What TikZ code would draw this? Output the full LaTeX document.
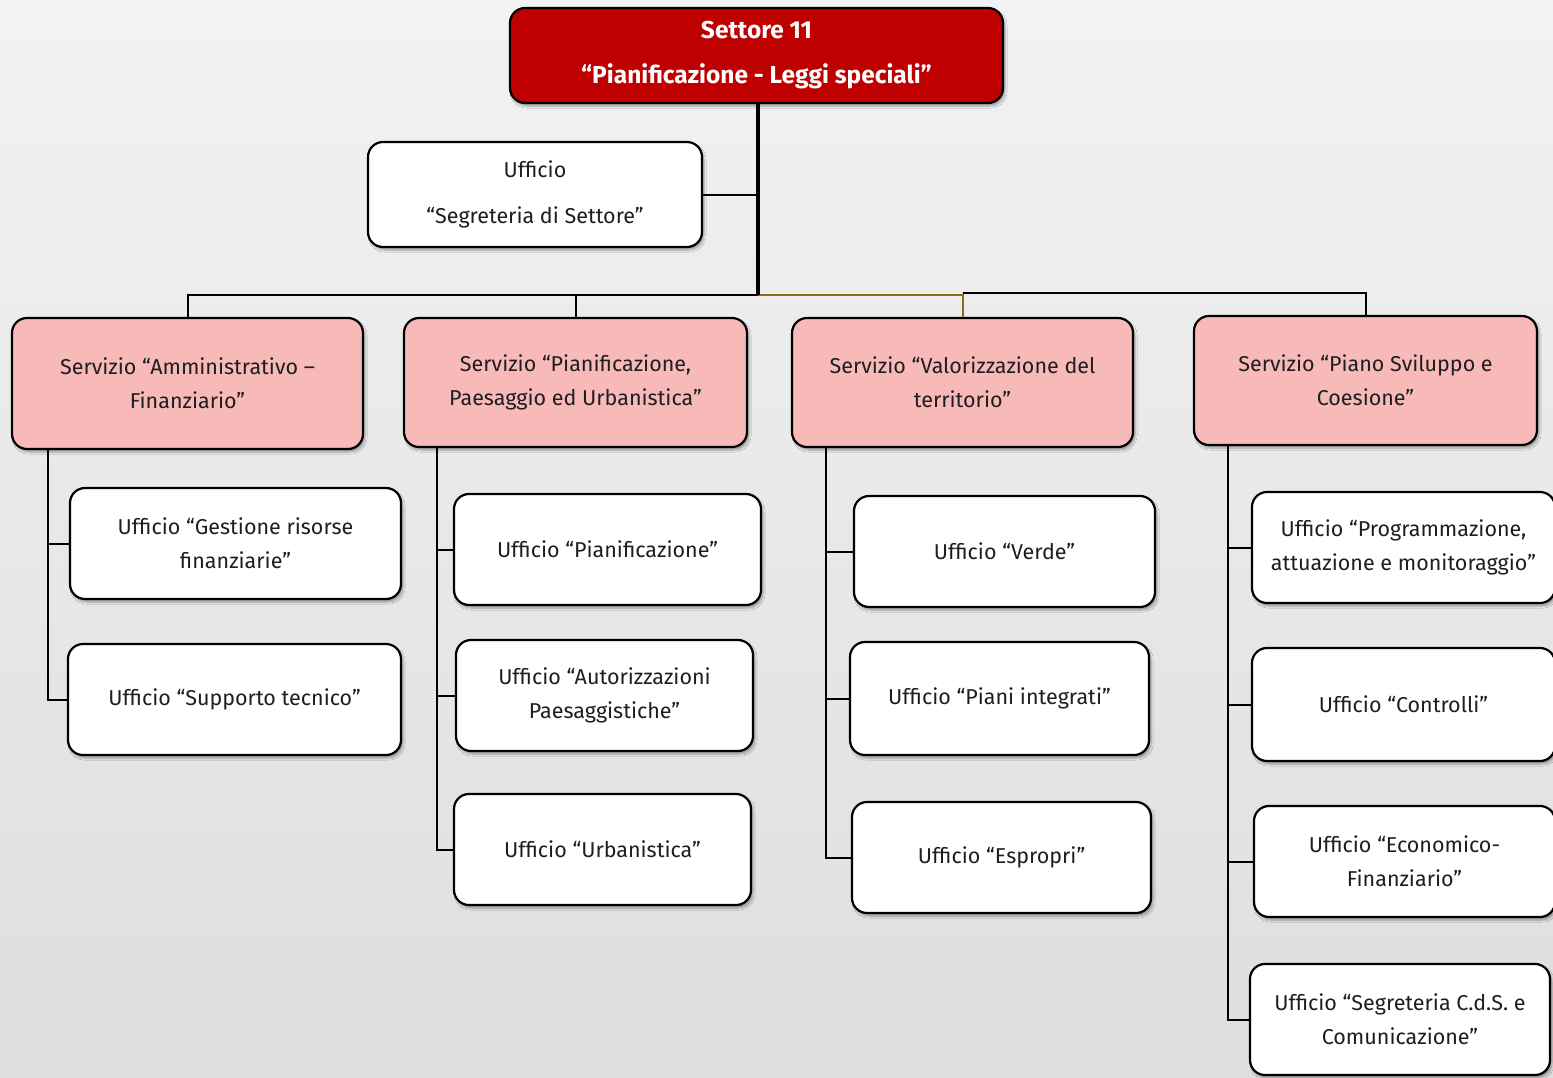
\documentclass[tikz,border=0pt]{standalone}
\usepackage{fontspec}
\setmainfont{Fira Sans}
\usetikzlibrary{shadows.blur}
\definecolor{topred}{HTML}{BE0000}
\definecolor{svcpink}{HTML}{F8B9B9}
\definecolor{brownline}{HTML}{8B6A1B}
\definecolor{txt}{HTML}{1E1E1E}
\begin{document}
\begin{tikzpicture}[x=1pt,y=-1pt,
  box/.style={draw=black,line width=2.2pt,rounded corners=15pt,align=center,
    inner sep=0pt,text=txt,font=\fontsize{21.5}{34}\selectfont,
    blur shadow={shadow xshift=2pt,shadow yshift=-3pt,shadow opacity=35,shadow blur steps=6}},
  topbox/.style={box,fill=topred,text=white,font=\fontsize{24.5}{45}\selectfont\bfseries},
  svc/.style={box,fill=svcpink},
  uff/.style={box,fill=white},
  conn/.style={draw=black,line width=2pt},
  trunk/.style={draw=black,line width=3.2pt}]
\useasboundingbox (0,0) rectangle (1553,1077);
\shade[top color=black!5,bottom color=black!13] (0,0) rectangle (1553,1077);
\clip (0,0) rectangle (1553,1077);

% connectors
\coordinate (bus) at (758,295);
\coordinate (v1) at (48,0);
\coordinate (v2) at (437,0);
\coordinate (v3) at (826,0);
\coordinate (v4) at (1228,0);
\coordinate (busR) at (963,293);

% top
\node[topbox,minimum width=493pt,minimum height=95pt] (top) at (756.5,55.5)
  {Settore 11\\“Pianificazione - Leggi speciali”};
\node[uff,minimum width=334pt,minimum height=105pt,font=\fontsize{21.5}{46}\selectfont] (seg) at (535,194.5)
  {Ufficio\\“Segreteria di Settore”};

% services
\node[svc,minimum width=351pt,minimum height=131pt] (s1) at (187.5,383.5)
  {Servizio “Amministrativo –\\Finanziario”};
\node[svc,minimum width=343pt,minimum height=129pt] (s2) at (575.5,382.5)
  {Servizio “Pianificazione,\\Paesaggio ed Urbanistica”};
\node[svc,minimum width=341pt,minimum height=129pt] (s3) at (962.5,382.5)
  {Servizio “Valorizzazione del\\territorio”};
\node[svc,minimum width=343pt,minimum height=129pt] (s4) at (1365.5,380.5)
  {Servizio “Piano Sviluppo e\\Coesione”};

% group 1
\node[uff,minimum width=331pt,minimum height=111pt] (a1) at (235.5,543.5)
  {Ufficio “Gestione risorse\\finanziarie”};
\node[uff,minimum width=333pt,minimum height=111pt] (a2) at (234.5,699.5)
  {Ufficio “Supporto tecnico”};
% group 2
\node[uff,minimum width=307pt,minimum height=111pt] (b1) at (607.5,549.5)
  {Ufficio “Pianificazione”};
\node[uff,minimum width=297pt,minimum height=111pt] (b2) at (604.5,695.5)
  {Ufficio “Autorizzazioni\\Paesaggistiche”};
\node[uff,minimum width=297pt,minimum height=111pt] (b3) at (602.5,849.5)
  {Ufficio “Urbanistica”};
% group 3
\node[uff,minimum width=301pt,minimum height=111pt] (c1) at (1004.5,551.5)
  {Ufficio “Verde”};
\node[uff,minimum width=299pt,minimum height=113pt] (c2) at (999.5,698.5)
  {Ufficio “Piani integrati”};
\node[uff,minimum width=299pt,minimum height=111pt] (c3) at (1001.5,857.5)
  {Ufficio “Espropri”};
% group 4
\node[uff,minimum width=303pt,minimum height=111pt] (d1) at (1403.5,547.5)
  {Ufficio “Programmazione,\\attuazione e monitoraggio”};
\node[uff,minimum width=303pt,minimum height=113pt] (d2) at (1403.5,704.5)
  {Ufficio “Controlli”};
\node[uff,minimum width=301pt,minimum height=111pt] (d3) at (1404.5,861.5)
  {Ufficio “Economico-\\Finanziario”};
\node[uff,minimum width=300pt,minimum height=111pt] (d4) at (1400,1019.5)
  {Ufficio “Segreteria C.d.S. e\\Comunicazione”};

\draw[conn] (s1.north) |- (bus);
\draw[conn] (s2.north) |- (bus);
\draw[conn] (s4.north) |- (busR);
\draw[draw=brownline,line width=2pt] (bus) -| (s3.north);
\draw[trunk] (top.south -| bus) -- (bus);
\draw[conn] (seg.east) -- (seg.east -| bus);

\draw[conn] (s1.south -| v1) |- (a2.west);
\draw[conn] (a1.west) -- (a1.west -| v1);
\draw[conn] (s2.south -| v2) |- (b3.west);
\draw[conn] (b1.west) -- (b1.west -| v2);
\draw[conn] (b2.west) -- (b2.west -| v2);
\draw[conn] (s3.south -| v3) |- (c3.west);
\draw[conn] (c1.west) -- (c1.west -| v3);
\draw[conn] (c2.west) -- (c2.west -| v3);
\draw[conn] (s4.south -| v4) |- (d4.west);
\draw[conn] (d1.west) -- (d1.west -| v4);
\draw[conn] (d2.west) -- (d2.west -| v4);
\draw[conn] (d3.west) -- (d3.west -| v4);
\end{tikzpicture}
\end{document}
